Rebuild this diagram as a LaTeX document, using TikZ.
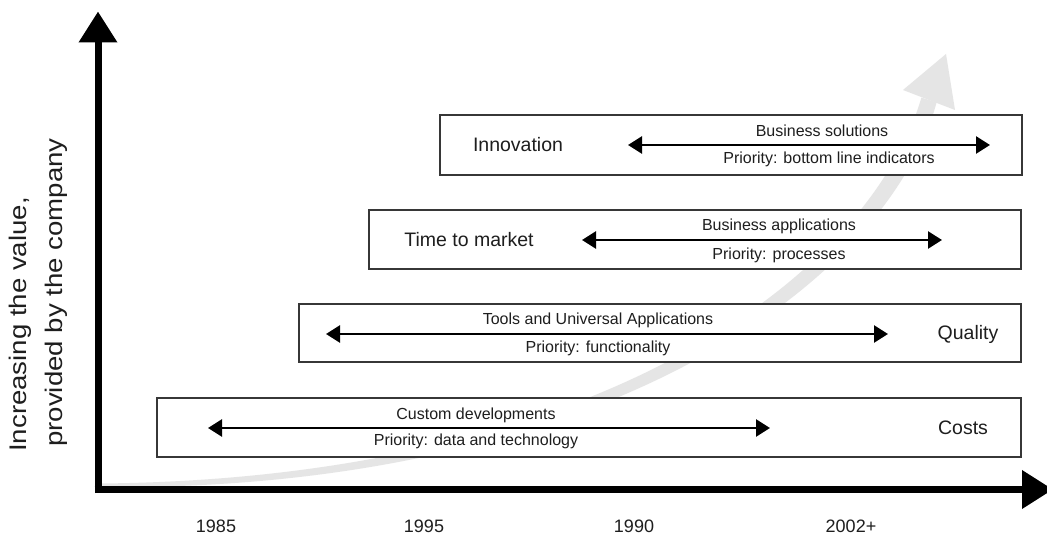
\documentclass[tikz,border=0pt]{standalone}
\usepackage{fontspec}
\setmainfont{Liberation Sans}
\usetikzlibrary{arrows.meta}
\definecolor{curvegray}{RGB}{229,229,229}
\definecolor{boxline}{RGB}{55,55,55}
\definecolor{txt}{RGB}{30,30,30}
\tikzset{
  boxst/.style={draw=boxline, line width=1.3pt, fill=white, inner sep=0pt},
  biglbl/.style={text=txt, inner sep=0pt, font=\fontsize{19.5}{23}\selectfont},
  smalllbl/.style={text=txt, inner sep=0pt, font=\fontsize{16}{19}\selectfont},
  yearlbl/.style={text=txt, inner sep=0pt, font=\fontsize{18}{21}\selectfont},
  ylbl/.style={text=txt, inner sep=0pt, rotate=90, font=\fontsize{24}{28}\selectfont},
  pair/.style={line width=2.6pt, {Triangle[length=14pt,width=17pt]}-{Triangle[length=14pt,width=17pt]}},
  axis/.style={line width=7pt, -{Triangle[length=31pt,width=37pt]}},
}
\begin{document}
\begin{tikzpicture}[x=1pt,y=-1pt]
\useasboundingbox (0,0) rectangle (1047,537);
\clip (0,0) rectangle (1047,537);
\fill[white] (0,0) rectangle (1047,537);

% growth curve (behind the boxes)
\fill[curvegray] (100,487) .. controls (600,492) and (887,284) .. (936.6,102.4)
  -- (921.4,97.6) .. controls (869,276) and (600,479) .. (100,483.5) -- cycle;
\fill[curvegray] (946,54) -- (903,90) -- (955,110) -- cycle;

% boxes
\node[boxst, minimum width=582pt, minimum height=60pt] (innov) at (731,145) {};
\node[boxst, minimum width=652pt, minimum height=59pt] (time) at (695,239.5) {};
\node[boxst, minimum width=722pt, minimum height=58pt] (qual) at (660,333) {};
\node[boxst, minimum width=864pt, minimum height=59pt] (cost) at (589,427.5) {};

% Innovation
\node[biglbl] (innovlbl) at (518,145) {Innovation};
\coordinate (ia) at (628,145);
\coordinate (ib) at (990,145);
\draw[pair] (ia) -- (ib);
\node[smalllbl] (innovtop) at (822,131) {Business solutions};
\node[smalllbl] (innovbot) at (829,159) {Priority: bottom line indicators};

% Time to market
\node[biglbl] (timelbl) at (469,240) {Time to market};
\coordinate (ta) at (582,240);
\coordinate (tb) at (942,240);
\draw[pair] (ta) -- (tb);
\node[smalllbl] (timetop) at (779,226) {Business applications};
\node[smalllbl] (timebot) at (779,255) {Priority: processes};

% Quality
\node[biglbl] (quallbl) at (968,334) {Quality};
\coordinate (qa) at (326,334);
\coordinate (qb) at (888,334);
\draw[pair] (qa) -- (qb);
\node[smalllbl] (qualtop) at (598,320) {Tools and Universal Applications};
\node[smalllbl] (qualbot) at (598,348) {Priority: functionality};

% Costs
\node[biglbl] (costlbl) at (963,428) {Costs};
\coordinate (ca) at (208,428);
\coordinate (cb) at (770,428);
\draw[pair] (ca) -- (cb);
\node[smalllbl] (costtop) at (476,415) {Custom developments};
\node[smalllbl] (costbot) at (476,441) {Priority: data and technology};

% axes
\coordinate (origin) at (98,489.5);
\coordinate (ytop) at (98,11.5);
\coordinate (xend) at (1053,489.5);
\draw[axis] ([yshift=-3.5pt]origin) -- (ytop);
\draw[axis] ([xshift=-3.5pt]origin) -- (xend);

% years
\node[yearlbl] (y1985) at (216,526) {1985};
\node[yearlbl] (y1995) at (424,526) {1995};
\node[yearlbl] (y1990) at (634,526) {1990};
\node[yearlbl] (y2002) at (851,526) {2002+};

% y-axis label
\node[ylbl, anchor=base west] (ylab1) at (27,452) {\scalebox{1.15}[1]{Increasing the value,}};
\node[ylbl, anchor=base west] (ylab2) at (62,447) {\scalebox{1.15}[1]{provided by the company}};
\end{tikzpicture}
\end{document}
